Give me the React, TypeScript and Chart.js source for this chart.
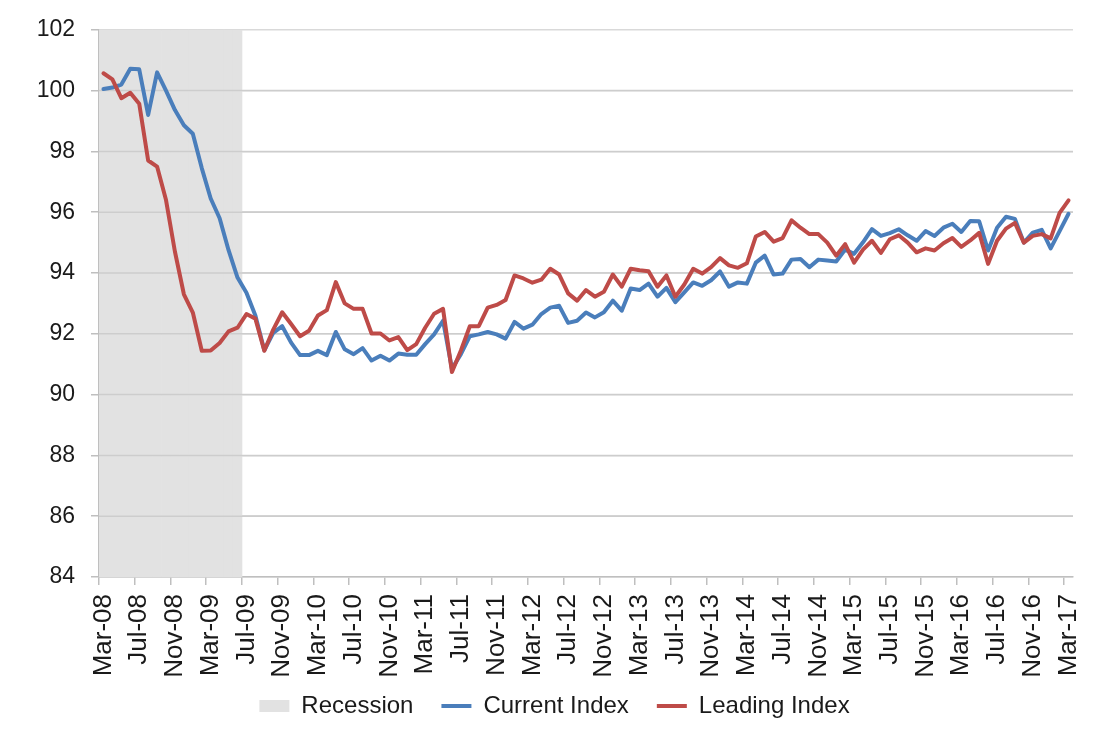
import React, { useEffect, useRef } from "react";
import { Chart, registerables } from "chart.js";

Chart.register(...registerables);

const labels: string[] = [
  "Mar-08", "Apr-08", "May-08", "Jun-08", "Jul-08", "Aug-08", "Sep-08", "Oct-08", "Nov-08", "Dec-08",
  "Jan-09", "Feb-09", "Mar-09", "Apr-09", "May-09", "Jun-09", "Jul-09", "Aug-09", "Sep-09", "Oct-09", "Nov-09", "Dec-09",
  "Jan-10", "Feb-10", "Mar-10", "Apr-10", "May-10", "Jun-10", "Jul-10", "Aug-10", "Sep-10", "Oct-10", "Nov-10", "Dec-10",
  "Jan-11", "Feb-11", "Mar-11", "Apr-11", "May-11", "Jun-11", "Jul-11", "Aug-11", "Sep-11", "Oct-11", "Nov-11", "Dec-11",
  "Jan-12", "Feb-12", "Mar-12", "Apr-12", "May-12", "Jun-12", "Jul-12", "Aug-12", "Sep-12", "Oct-12", "Nov-12", "Dec-12",
  "Jan-13", "Feb-13", "Mar-13", "Apr-13", "May-13", "Jun-13", "Jul-13", "Aug-13", "Sep-13", "Oct-13", "Nov-13", "Dec-13",
  "Jan-14", "Feb-14", "Mar-14", "Apr-14", "May-14", "Jun-14", "Jul-14", "Aug-14", "Sep-14", "Oct-14", "Nov-14", "Dec-14",
  "Jan-15", "Feb-15", "Mar-15", "Apr-15", "May-15", "Jun-15", "Jul-15", "Aug-15", "Sep-15", "Oct-15", "Nov-15", "Dec-15",
  "Jan-16", "Feb-16", "Mar-16", "Apr-16", "May-16", "Jun-16", "Jul-16", "Aug-16", "Sep-16", "Oct-16", "Nov-16", "Dec-16",
  "Jan-17", "Feb-17", "Mar-17",
];

const recessionMonths: string[] = [
  "Mar-08", "Apr-08", "May-08", "Jun-08", "Jul-08", "Aug-08", "Sep-08", "Oct-08", "Nov-08", "Dec-08",
  "Jan-09", "Feb-09", "Mar-09", "Apr-09", "May-09", "Jun-09",
];

const currentIndex: number[] = [
  100.05, 100.1, 100.2, 100.72, 100.7, 99.2, 100.6, 100.0, 99.36, 98.86,
  98.58, 97.45, 96.45, 95.8, 94.75, 93.85, 93.35, 92.6, 91.46, 92.03,
  92.25, 91.71, 91.3, 91.3, 91.44, 91.3, 92.06, 91.49, 91.33, 91.53,
  91.12, 91.28, 91.12, 91.35, 91.31, 91.31, 91.66, 91.98, 92.43, 90.85,
  91.33, 91.92, 91.98, 92.06, 91.98, 91.84, 92.39, 92.17, 92.3, 92.65,
  92.86, 92.92, 92.36, 92.43, 92.7, 92.54, 92.71, 93.09, 92.76, 93.49,
  93.44, 93.65, 93.22, 93.51, 93.04, 93.36, 93.69, 93.58, 93.76, 94.05,
  93.55, 93.69, 93.65, 94.34, 94.57, 93.95, 93.98, 94.44, 94.46, 94.19,
  94.44, 94.41, 94.38, 94.77, 94.63, 95.01, 95.44, 95.22, 95.31, 95.44,
  95.24, 95.06, 95.38, 95.22, 95.49, 95.62, 95.35, 95.71, 95.7, 94.74,
  95.49, 95.85, 95.78, 95.0, 95.33, 95.42, 94.81, 95.38, 95.95,
];

const leadingIndex: number[] = [
  100.57, 100.37, 99.75, 99.93, 99.57, 97.7, 97.5, 96.4, 94.7, 93.3,
  92.7, 91.44, 91.45, 91.7, 92.08, 92.2, 92.65, 92.5, 91.44, 92.14,
  92.71, 92.32, 91.92, 92.1, 92.6, 92.78, 93.7, 93.0, 92.82, 92.82,
  92.01, 92.01, 91.78, 91.89, 91.46, 91.66, 92.2, 92.66, 92.82, 90.74,
  91.45, 92.25, 92.25, 92.86, 92.95, 93.11, 93.92, 93.82, 93.68, 93.78,
  94.14, 93.95, 93.33, 93.09, 93.44, 93.22, 93.38, 93.95, 93.55, 94.14,
  94.09, 94.06, 93.55, 93.92, 93.22, 93.62, 94.14, 93.98, 94.19, 94.49,
  94.25, 94.17, 94.32, 95.2, 95.35, 95.03, 95.15, 95.73, 95.49, 95.28,
  95.28, 95.0, 94.57, 94.95, 94.34, 94.77, 95.06, 94.66, 95.11, 95.24,
  95.0, 94.68, 94.81, 94.74, 94.98, 95.15, 94.86, 95.07, 95.32, 94.3,
  95.06, 95.46, 95.65, 95.0, 95.22, 95.28, 95.14, 95.98, 96.39,
];

const Y_MIN = 84;
const Y_MAX = 102;
const Y_STEP = 2;

const FONT = "'Liberation Sans', Arial, Helvetica, sans-serif";
const TEXT = "#1a1a1a";
const BLUE = "#4a7ebb";
const RED = "#be4b48";
const GRAY = "#e2e2e2";
const GRID = "#d9d9d9";
const GRID_ON_GRAY = "#cdcdcd";
const AXIS = "#bfbfbf";

// Moves the legend up a little so it sits where the reference puts it.
const legendShift = {
  id: "legendShift",
  afterLayout(chart: any) {
    const l = chart.legend;
    if (l) {
      l.top -= 16;
      l.bottom -= 16;
    }
  },
};

// Redraws the horizontal grid lines over the opaque recession shading.
const gridOverShade = {
  id: "gridOverShade",
  afterDatasetDraw(chart: any, args: any) {
    if (args.index !== 0) return;
    const meta = args.meta;
    const bars = meta.data.filter((b: any) => b && !b.skip && isFinite(b.x) && b.width);
    if (!bars.length) return;
    const yScale = chart.scales.y;
    const area = chart.chartArea;
    let left = Infinity;
    let right = -Infinity;
    bars.forEach((b: any) => {
      left = Math.min(left, b.x - b.width / 2);
      right = Math.max(right, b.x + b.width / 2);
    });
    left = Math.max(left, area.left);
    right = Math.min(right, area.right);
    const ctx = chart.ctx;
    ctx.save();
    ctx.strokeStyle = GRID_ON_GRAY;
    ctx.lineWidth = 1.5;
    yScale.ticks.forEach((t: any) => {
      const y = yScale.getPixelForValue(t.value);
      if (y <= area.top + 1 || y >= area.bottom - 1) return;
      ctx.beginPath();
      ctx.moveTo(left, y);
      ctx.lineTo(right, y);
      ctx.stroke();
    });
    ctx.restore();
  },
};

export default function App() {
  const ref = useRef<HTMLCanvasElement>(null);

  useEffect(() => {
    document.body.style.margin = "0";
    const canvas = ref.current;
    if (!canvas) return;

    const recessionData = labels.map((l) =>
      recessionMonths.includes(l) ? [Y_MIN, Y_MAX] : null
    );

    const legendStyles = [
      { fill: GRAY, width: 0, style: "rect" },
      { fill: BLUE, width: 4, style: "line" },
      { fill: RED, width: 4, style: "line" },
    ];

    const chart = new Chart(canvas, {
      type: "bar",
      data: {
        labels,
        datasets: [
          {
            type: "bar",
            label: "Recession",
            data: recessionData as any,
            backgroundColor: GRAY,
            borderWidth: 0,
            barPercentage: 1,
            categoryPercentage: 1,
            order: 3,
          } as any,
          {
            type: "line",
            label: "Current Index",
            data: currentIndex,
            borderColor: BLUE,
            backgroundColor: BLUE,
            borderWidth: 4,
            pointRadius: 0,
            tension: 0,
            borderJoinStyle: "round",
            borderCapStyle: "round",
            order: 2,
          } as any,
          {
            type: "line",
            label: "Leading Index",
            data: leadingIndex,
            borderColor: RED,
            backgroundColor: RED,
            borderWidth: 4,
            pointRadius: 0,
            tension: 0,
            borderJoinStyle: "round",
            borderCapStyle: "round",
            order: 1,
          } as any,
        ],
      },
      plugins: [legendShift, gridOverShade],
      options: {
        responsive: false,
        maintainAspectRatio: false,
        animation: false,
        layout: { padding: { left: 36, right: 21, top: 20, bottom: -15 } },
        plugins: {
          tooltip: { enabled: false },
          legend: {
            position: "bottom",
            labels: {
              usePointStyle: true,
              pointStyleWidth: 30,
              boxHeight: 12,
              padding: 28,
              color: TEXT,
              font: { size: 24, family: FONT },
              generateLabels: (c: any) =>
                c.data.datasets.map((ds: any, i: number) => ({
                  text: ds.label,
                  fillStyle: legendStyles[i].fill,
                  strokeStyle: legendStyles[i].fill,
                  lineWidth: legendStyles[i].width,
                  pointStyle: legendStyles[i].style,
                  hidden: false,
                  datasetIndex: i,
                  fontColor: TEXT,
                })),
            },
          },
        },
        scales: {
          x: {
            offset: true,
            ticks: {
              autoSkip: false,
              minRotation: 90,
              maxRotation: 90,
              padding: 9,
              color: TEXT,
              font: { size: 26, family: FONT },
              callback: (_v: any, i: number) => (i % 4 === 0 ? labels[i] : ""),
            },
            grid: {
              offset: true,
              drawOnChartArea: false,
              tickLength: 8,
              lineWidth: 1.5,
              tickColor: (ctx: any) => (ctx.index % 4 === 0 ? AXIS : "rgba(0,0,0,0)"),
            },
            border: { color: AXIS, width: 1.5 },
            afterFit: (s: any) => {
              s.height = 105;
              s.paddingLeft = 0;
              s.paddingRight = 0;
            },
          } as any,
          y: {
            min: Y_MIN,
            max: Y_MAX,
            ticks: {
              stepSize: Y_STEP,
              padding: 16,
              color: TEXT,
              font: { size: 23, family: FONT },
            },
            grid: {
              color: GRID,
              lineWidth: 1.5,
              tickLength: 8,
              tickColor: AXIS,
            },
            border: { color: AXIS, width: 1.5 },
            afterFit: (s: any) => {
              s.width = 63;
            },
          } as any,
        },
      },
    });

    return () => chart.destroy();
  }, []);

  return (
    <div style={{ width: 1094, height: 729 }}>
      <canvas ref={ref} width={1094} height={729} />
    </div>
  );
}
